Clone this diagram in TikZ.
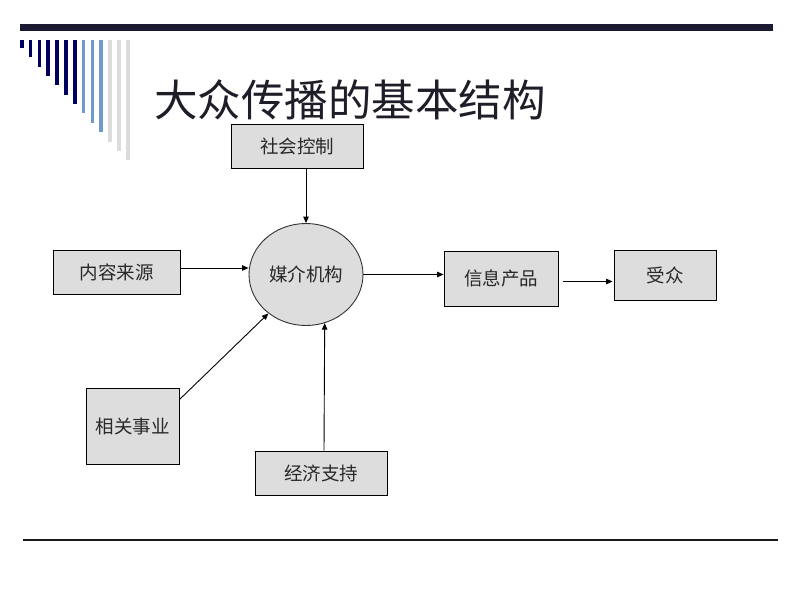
\documentclass[tikz,border=0pt]{standalone}
\usepackage{fontspec}
\setmainfont{Noto Sans CJK SC}
\usetikzlibrary{shapes.geometric,arrows.meta}
\definecolor{barnavy}{RGB}{26,26,51}
\definecolor{navy}{RGB}{0,0,96}
\definecolor{steel}{RGB}{111,155,200}
\definecolor{lightg}{RGB}{220,220,220}
\definecolor{boxfill}{RGB}{221,221,221}
\definecolor{txt}{RGB}{40,40,40}
\definecolor{titlec}{RGB}{30,30,40}
\tikzset{
  box/.style={draw=black, line width=0.9pt, fill=boxfill, inner sep=0pt, text=txt, font=\fontsize{18.5}{20}\selectfont},
  ell/.style={ellipse, draw=black!80, line width=0.9pt, fill=boxfill, inner sep=0pt, text=txt, font=\fontsize{18.5}{20}\selectfont},
  arr/.style={draw=black, line width=0.9pt, -{Triangle[length=6.5pt,width=5.5pt]}},
}
\begin{document}
\begin{tikzpicture}[x=1pt,y=-1pt]
\useasboundingbox (0,0) rectangle (800,600);
% top bar
\fill[barnavy] (20,24) rectangle (773,31);
% stripes
\foreach \i in {0,...,12}{
  \pgfmathsetmacro{\xl}{20+8.83*\i}
  \pgfmathsetmacro{\yb}{48+9.35*\i}
  \ifnum\i<7 \def\sc{navy}\else\ifnum\i<10 \def\sc{steel}\else\def\sc{lightg}\fi\fi
  \fill[\sc] (\xl,40) rectangle ({\xl+3.6},\yb);
}
% title
\node[text=titlec, font=\fontsize{43.5}{46}\selectfont, anchor=center] (title) at (350,100) {大众传播的基本结构};
% nodes
\node[box, minimum width=132pt, minimum height=44pt] (ctrl) at (297,146) {社会控制};
\node[ell, minimum width=114pt, minimum height=102pt] (media) at (306,274.5) {媒介机构};
\node[box, minimum width=114pt, minimum height=55pt] (info) at (501,278.5) {信息产品};
\node[box, minimum width=102pt, minimum height=50pt] (aud) at (665,275) {受众};
\node[box, minimum width=127pt, minimum height=44pt] (content) at (116.5,272) {内容来源};
\node[box, minimum width=93pt, minimum height=76pt] (related) at (132.5,426) {相关事业};
\node[box, minimum width=132pt, minimum height=44pt] (econ) at (321,473) {经济支持};
% connectors
\draw[arr] (ctrl.south -| media.north) -- (media.north);
\draw[arr] ([yshift=4pt]content.east) -- ([yshift=4pt]content.east -| media.west);
\draw[arr] (media.east) -- (media.east -| info.west);
\draw[arr, shorten >=6pt] ([xshift=5pt,yshift=-3pt]info.east) -- ([xshift=5pt,yshift=-3pt]info.east -| aud.west);
\draw[arr] ([yshift=-12pt]related.north east) -- (media.226);
\draw[arr] ([xshift=3pt]econ.north) -- (media.291);
% bottom line
\draw[line width=1.4pt, black!90] (23,540) -- (778,540);
\end{tikzpicture}
\end{document}
